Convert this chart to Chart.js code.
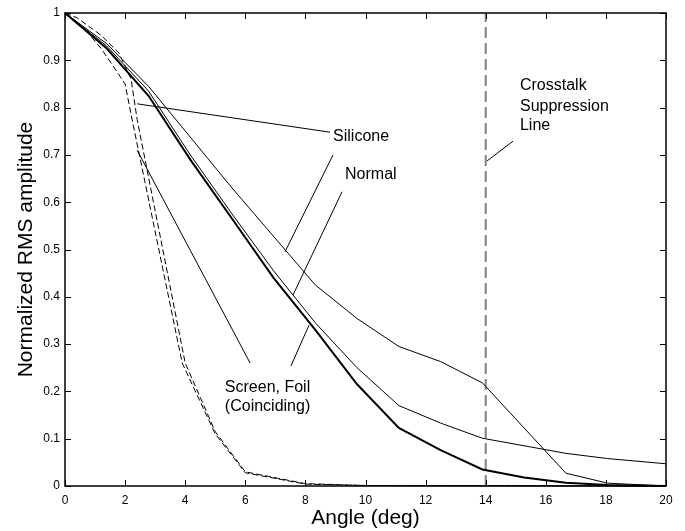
<!DOCTYPE html>
<html>
<head>
<meta charset="utf-8">
<script src="https://cdn.jsdelivr.net/npm/chart.js@4.4.1/dist/chart.umd.min.js"></script>
<style>
    html, body { margin: 0; padding: 0; background: #fff; }
    #wrap { width: 685px; height: 531px; }
</style>
</head>
<body>
<div id="wrap"><canvas id="angleChart" width="685" height="531"></canvas></div>
<script>
// values: angle (deg) -> normalized RMS amplitude
const siliconeAngles = [0, 1.39, 2.78, 5.56, 8.33, 9.72, 11.11, 12.5, 13.89, 16.67, 18.06, 20];
const siliconeAmp    = [1, 0.935, 0.845, 0.63, 0.425, 0.354, 0.295, 0.263, 0.218, 0.027, 0.006, 0];

const normalAngles = [0, 1.39, 2.78, 4.17, 5.56, 6.94, 8.33, 9.72, 11.11, 12.5, 13.89, 16.67, 18.06, 20];
const normalAmp    = [1, 0.93, 0.835, 0.70, 0.575, 0.455, 0.345, 0.25, 0.17, 0.133, 0.101, 0.069, 0.058, 0.047];

const screenFoilAngles = [0, 1.39, 2.78, 4.17, 5.56, 6.94, 8.33, 9.72, 11.11, 12.5, 13.89, 15.28, 16.67, 18.06, 20];
const screenFoilAmp    = [1, 0.925, 0.825, 0.69, 0.565, 0.44, 0.33, 0.215, 0.123, 0.076, 0.035, 0.018, 0.007, 0.002, 0];

const dashedAAngles = [0, 0.7, 1.2, 1.6, 2.0, 2.2, 3.9, 5.0, 6.0, 8, 10, 20];
const dashedAAmp    = [1, 0.963, 0.925, 0.888, 0.85, 0.785, 0.26, 0.11, 0.028, 0.004, 0.001, 0];

const dashedBAngles = [0, 0.4, 1.2, 1.8, 2.2, 2.4, 4.0, 5.0, 6.0, 8, 10, 20];
const dashedBAmp    = [1, 0.99, 0.953, 0.915, 0.86, 0.775, 0.26, 0.115, 0.03, 0.005, 0.001, 0];

const crosstalkAngles = [14, 14];
const crosstalkAmp    = [0, 1];

const xTicks = [0, 2, 4, 6, 8, 10, 12, 14, 16, 18, 20];
const yTicks = [0, 0.1, 0.2, 0.3, 0.4, 0.5, 0.6, 0.7, 0.8, 0.9, 1];
const yTickLabels = ['0', '0.1', '0.2', '0.3', '0.4', '0.5', '0.6', '0.7', '0.8', '0.9', '1'];

// text callouts and their pointer lines, in data units
const labelTexts = [
    { text: 'Silicone', x: 8.92, y: 0.739 },
    { text: 'Normal', x: 9.32, y: 0.659 },
    { text: 'Crosstalk', x: 15.14, y: 0.846 },
    { text: 'Suppression', x: 15.14, y: 0.803 },
    { text: 'Line', x: 15.14, y: 0.763 },
    { text: 'Screen, Foil', x: 5.32, y: 0.207 },
    { text: '(Coinciding)', x: 5.32, y: 0.167 }
];
const pointerLines = [
    [2.40, 0.808, 8.82, 0.748],
    [8.92, 0.700, 7.32, 0.495],
    [9.22, 0.622, 7.59, 0.404],
    [14.91, 0.729, 14.04, 0.687],
    [2.40, 0.710, 6.16, 0.260],
    [7.52, 0.254, 8.12, 0.340]
];

const FONT = "'Liberation Sans', Arial, Helvetica, sans-serif";

function toPoints(xs, ys) {
    return xs.map((x, i) => ({ x: x, y: ys[i] }));
}

function lineSet(xs, ys, width, dash, color) {
    return {
        data: toPoints(xs, ys),
        borderColor: color || '#000',
        borderWidth: width,
        borderDash: dash || [],
        pointRadius: 0,
        tension: 0,
        fill: false,
        clip: 3
    };
}

// box round the plot with inward ticks on all four sides
const frameTicks = {
    id: 'frameTicks',
    afterDatasetsDraw(chart) {
        const { ctx, chartArea: a, scales: { x, y } } = chart;
        const len = 6;
        ctx.save();
        ctx.strokeStyle = '#000';
        ctx.lineWidth = 1;
        ctx.beginPath();
        x.ticks.forEach(t => {
            const px = Math.round(x.getPixelForValue(t.value)) + 0.5;
            ctx.moveTo(px, a.bottom); ctx.lineTo(px, a.bottom - len);
            ctx.moveTo(px, a.top); ctx.lineTo(px, a.top + len);
        });
        y.ticks.forEach(t => {
            const py = Math.round(y.getPixelForValue(t.value)) + 0.5;
            ctx.moveTo(a.left, py); ctx.lineTo(a.left + len, py);
            ctx.moveTo(a.right, py); ctx.lineTo(a.right - len, py);
        });
        ctx.stroke();
        ctx.lineWidth = 1.5;
        ctx.strokeRect(a.left, a.top, a.right - a.left, a.bottom - a.top);
        ctx.restore();
    }
};

const callouts = {
    id: 'callouts',
    afterDraw(chart) {
        const { ctx, scales: { x, y } } = chart;
        ctx.save();
        ctx.strokeStyle = '#000';
        ctx.lineWidth = 1;
        pointerLines.forEach(l => {
            ctx.beginPath();
            ctx.moveTo(x.getPixelForValue(l[0]), y.getPixelForValue(l[1]));
            ctx.lineTo(x.getPixelForValue(l[2]), y.getPixelForValue(l[3]));
            ctx.stroke();
        });
        ctx.fillStyle = '#000';
        ctx.font = '16px ' + FONT;
        ctx.textAlign = 'left';
        ctx.textBaseline = 'middle';
        labelTexts.forEach(t => {
            ctx.fillText(t.text, x.getPixelForValue(t.x), y.getPixelForValue(t.y));
        });
        ctx.restore();
    }
};

new Chart(document.getElementById('angleChart'), {
    type: 'line',
    data: {
        datasets: [
            lineSet(siliconeAngles, siliconeAmp, 1),
            lineSet(normalAngles, normalAmp, 1),
            lineSet(screenFoilAngles, screenFoilAmp, 2),
            lineSet(dashedAAngles, dashedAAmp, 1, [6, 3]),
            lineSet(dashedBAngles, dashedBAmp, 1, [6, 3]),
            lineSet(crosstalkAngles, crosstalkAmp, 2, [11, 5], '#808080')
        ]
    },
    options: {
        responsive: false,
        devicePixelRatio: 1,
        animation: false,
        layout: { padding: { left: 0, right: 19, top: 13, bottom: 0 } },
        plugins: {
            legend: { display: false },
            tooltip: { enabled: false }
        },
        scales: {
            x: {
                type: 'linear',
                min: 0,
                max: 20,
                afterBuildTicks: scale => { scale.ticks = xTicks.map(v => ({ value: v })); },
                afterFit: scale => { scale.height = 45; },
                grid: { display: false, drawTicks: false },
                border: { display: false },
                ticks: {
                    padding: 7,
                    color: '#000',
                    maxRotation: 0,
                    font: { family: FONT, size: 12 },
                    callback: v => String(v)
                },
                title: {
                    display: true,
                    text: 'Angle (deg)',
                    color: '#000',
                    font: { family: FONT, size: 21 },
                    padding: { top: 0, bottom: 0 }
                }
            },
            y: {
                type: 'linear',
                min: 0,
                max: 1,
                afterBuildTicks: scale => { scale.ticks = yTicks.map(v => ({ value: v })); },
                afterFit: scale => { scale.width = 65; },
                grid: { display: false, drawTicks: false },
                border: { display: false },
                ticks: {
                    padding: 5,
                    color: '#000',
                    font: { family: FONT, size: 12 },
                    callback: (v, i) => yTickLabels[i]
                },
                title: {
                    display: true,
                    text: 'Normalized RMS amplitude',
                    color: '#000',
                    font: { family: FONT, size: 21 },
                    padding: { top: 14, bottom: 0 }
                }
            }
        }
    },
    plugins: [frameTicks, callouts]
});
</script>
</body>
</html>
